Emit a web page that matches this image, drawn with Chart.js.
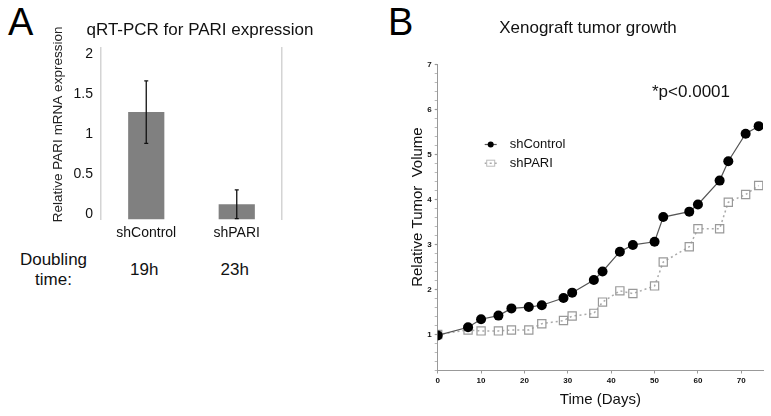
<!DOCTYPE html>
<html>
<head>
<meta charset="utf-8">
<script src="https://cdn.jsdelivr.net/npm/chart.js@4.4.1/dist/chart.umd.min.js"></script>
<style>
  html, body { margin: 0; padding: 0; background: #fff; }
  body {
    width: 771px; height: 416px; position: relative; overflow: hidden;
    font-family: "Liberation Sans", Arial, sans-serif; color: #111;
  }
  canvas { position: absolute; top: 0; }
  #chartA { left: 0; }
  #chartB { left: 405px; }
  .txt { position: absolute; white-space: nowrap; font-size: 17px; line-height: 20px; }
  .panel { position: absolute; font-size: 38px; line-height: 38px; color: #000; }
</style>
</head>
<body>
<div class="panel" style="left:8px;top:3px">A</div>
<div class="panel" style="left:388px;top:3px">B</div>
<canvas id="chartA" width="400" height="245"></canvas>
<canvas id="chartB" width="366" height="416"></canvas>
<div class="txt" style="left:0;width:107px;top:250px;text-align:center">Doubling<br>time:</div>
<div id="doubling"></div>
<div class="txt" style="left:652px;top:82px">*p&lt;0.0001</div>

<script>
// Panel A - qRT-PCR
const groups = ["shControl", "shPARI"];
const expression = [1.34, 0.19];
const expressionErr = [0.39, 0.18];
const yTicksA = [0, 0.5, 1, 1.5, 2];
const doublingTimes = ["19h", "23h"];

// Panel B - xenograft growth
const days = [0, 7, 10, 14, 17, 21, 24, 29, 31, 36, 38, 42, 45, 50, 52, 58, 60, 65, 67, 71, 74];
const shControl = [0.98, 1.16, 1.34, 1.42, 1.58, 1.61, 1.65, 1.81, 1.93, 2.21, 2.40, 2.84, 2.99, 3.06, 3.61, 3.73, 3.89, 4.42, 4.85, 5.46, 5.63];
const shPARI = [1.0, 1.10, 1.08, 1.08, 1.10, 1.10, 1.24, 1.31, 1.41, 1.47, 1.72, 1.97, 1.91, 2.08, 2.61, 2.95, 3.35, 3.35, 3.94, 4.11, 4.31];
const xTicksB = [0, 10, 20, 30, 40, 50, 60, 70];
const yTicksB = [1, 2, 3, 4, 5, 6, 7];

const FONT = "'Liberation Sans', Arial, sans-serif";
Chart.defaults.font.family = FONT;

// error bars on top of the bars
const errorBars = {
  id: "errorBars",
  afterDatasetsDraw(chart) {
    const ctx = chart.ctx;
    const yScale = chart.scales.y;
    const meta = chart.getDatasetMeta(0);
    ctx.save();
    ctx.strokeStyle = "#111";
    ctx.lineWidth = 1.3;
    meta.data.forEach((bar, i) => {
      const hi = yScale.getPixelForValue(expression[i] + expressionErr[i]);
      const lo = yScale.getPixelForValue(expression[i] - expressionErr[i]);
      ctx.beginPath();
      ctx.moveTo(bar.x, hi);
      ctx.lineTo(bar.x, lo);
      ctx.moveTo(bar.x - 2, hi);
      ctx.lineTo(bar.x + 2, hi);
      ctx.moveTo(bar.x - 2, lo);
      ctx.lineTo(bar.x + 2, lo);
      ctx.stroke();
    });
    ctx.restore();
  },
};

// small legend inside the plot area of panel B
const insideLegend = {
  id: "insideLegend",
  afterDraw(chart, args, opts) {
    const ctx = chart.ctx;
    const { left, top } = chart.chartArea;
    ctx.save();
    chart.data.datasets.forEach((ds, i) => {
      const x0 = left + opts.x;
      const y = top + opts.y + i * opts.rowGap;
      ctx.strokeStyle = ds.borderColor;
      ctx.lineWidth = ds.borderWidth;
      ctx.setLineDash(ds.borderDash || []);
      ctx.beginPath();
      ctx.moveTo(x0, y);
      ctx.lineTo(x0 + 12, y);
      ctx.stroke();
      ctx.setLineDash([]);
      if (ds.pointStyle === "rect") {
        ctx.strokeStyle = "#bbb";
        ctx.lineWidth = 1;
        ctx.strokeRect(x0 + 2, y - 3, 8, 6);
      } else {
        ctx.fillStyle = ds.pointBackgroundColor;
        ctx.beginPath();
        ctx.arc(x0 + 6, y, 3, 0, Math.PI * 2);
        ctx.fill();
      }
      ctx.fillStyle = "#111";
      ctx.font = "13px " + FONT;
      ctx.textBaseline = "middle";
      ctx.fillText(ds.label, x0 + 25, y);
    });
    ctx.restore();
  },
};

const chartA = new Chart(document.getElementById("chartA"), {
  type: "bar",
  data: {
    labels: groups,
    datasets: [
      {
        data: expression,
        backgroundColor: "#808080",
        barPercentage: 0.4,
        categoryPercentage: 1,
      },
    ],
  },
  options: {
    responsive: false,
    animation: false,
    events: [],
    plugins: {
      legend: { display: false },
      tooltip: { enabled: false },
      title: {
        display: true,
        text: "qRT-PCR for PARI expression",
        color: "#111",
        font: { size: 17, weight: "normal" },
        padding: { top: 19.8, bottom: 7.8 },
      },
    },
    scales: {
      x: {
        grid: { display: false, drawTicks: false },
        border: { display: false },
        ticks: { color: "#111", font: { size: 14 }, padding: 5 },
        afterFit(s) { s.height = 25.5; },
      },
      y: {
        min: 0,
        max: 2.14,
        afterBuildTicks(s) { s.ticks = yTicksA.map((v) => ({ value: v })); },
        grid: { display: false, drawTicks: false },
        border: { color: "#d4d4d4", width: 1.5 },
        ticks: {
          color: "#111",
          font: { size: 14 },
          padding: 8,
          labelOffset: -5,
          callback: (v) => String(v),
        },
        title: {
          display: true,
          // leading spaces nudge the label up to where it sits in the figure
          text: "     Relative PARI mRNA expression",
          color: "#222",
          font: { size: 13.5 },
          padding: { top: 49.9, bottom: 0 },
        },
        afterFit(s) { s.width = 101; },
      },
      y2: {
        position: "right",
        grid: { display: false, drawTicks: false },
        border: { color: "#d4d4d4", width: 1.5 },
        ticks: { display: false },
        afterFit(s) { s.width = 118; },
      },
    },
  },
  plugins: [errorBars],
});

// doubling times under each bar
const holder = document.getElementById("doubling");
doublingTimes.forEach((t, i) => {
  const d = document.createElement("div");
  d.className = "txt";
  d.textContent = t;
  d.style.left = chartA.scales.x.getPixelForValue(i) - 2 + "px";
  d.style.top = "260px";
  d.style.transform = "translateX(-50%)";
  holder.appendChild(d);
});

new Chart(document.getElementById("chartB"), {
  type: "line",
  data: {
    datasets: [
      {
        label: "shControl",
        data: days.map((d, i) => ({ x: d, y: shControl[i] })),
        borderColor: "#555",
        borderWidth: 1.2,
        pointRadius: 5,
        pointBackgroundColor: "#000",
        pointBorderColor: "#000",
        pointBorderWidth: 0,
      },
      {
        label: "shPARI",
        data: days.map((d, i) => ({ x: d, y: shPARI[i] })),
        borderColor: "#aaa",
        borderWidth: 1.5,
        borderDash: [2, 3],
        pointStyle: "rect",
        pointRadius: 5.8,
        pointBorderColor: "#999",
        pointBorderWidth: 1.2,
        pointBackgroundColor: "rgba(255,255,255,0)",
      },
    ],
  },
  options: {
    responsive: false,
    animation: false,
    events: [],
    plugins: {
      legend: { display: false },
      tooltip: { enabled: false },
      title: {
        display: true,
        text: "Xenograft tumor growth",
        color: "#111",
        font: { size: 17, weight: "normal" },
        padding: { top: 18.3, bottom: 25.8 },
      },
      insideLegend: { x: 47, y: 80, rowGap: 18.7 },
    },
    scales: {
      x: {
        type: "linear",
        min: 0,
        max: 75,
        afterBuildTicks(s) { s.ticks = xTicksB.map((v) => ({ value: v })); },
        grid: { drawOnChartArea: false, tickLength: 3, color: "#999" },
        border: { color: "#999", width: 1 },
        ticks: { color: "#111", font: { size: 8, weight: "bold" }, padding: 2, autoSkip: false },
        title: {
          display: true,
          text: "Time (Days)",
          color: "#111",
          font: { size: 15 },
          padding: { top: 2, bottom: 7 },
        },
        afterFit(s) { s.height = 45.5; },
      },
      y: {
        min: 0.2,
        max: 7,
        afterBuildTicks(s) {
          // minor ticks every 0.2, labels only on the whole numbers
          const t = [];
          for (let k = 1; k <= 35; k++) t.push({ value: Math.round(k * 2) / 10 });
          s.ticks = t;
        },
        grid: {
          drawOnChartArea: false,
          tickLength: 3,
          color: "#999",
          tickWidth: (c) => (c.tick && yTicksB.includes(c.tick.value) ? 1.2 : 0.7),
        },
        border: { color: "#999", width: 1 },
        ticks: {
          color: "#111",
          font: { size: 8, weight: "bold" },
          padding: 3,
          autoSkip: false,
          callback: (v) => (yTicksB.includes(v) ? String(v) : ""),
        },
        title: {
          display: true,
          text: "     Relative Tumor  Volume",
          color: "#111",
          font: { size: 15 },
          padding: { top: 4, bottom: 0 },
        },
        afterFit(s) { s.width = 32.7; },
      },
      yR: {
        position: "right",
        ticks: { display: false },
        grid: { display: false },
        border: { display: false },
        afterFit(s) { s.width = 8; },
      },
    },
  },
  plugins: [insideLegend],
});
</script>
</body>
</html>
